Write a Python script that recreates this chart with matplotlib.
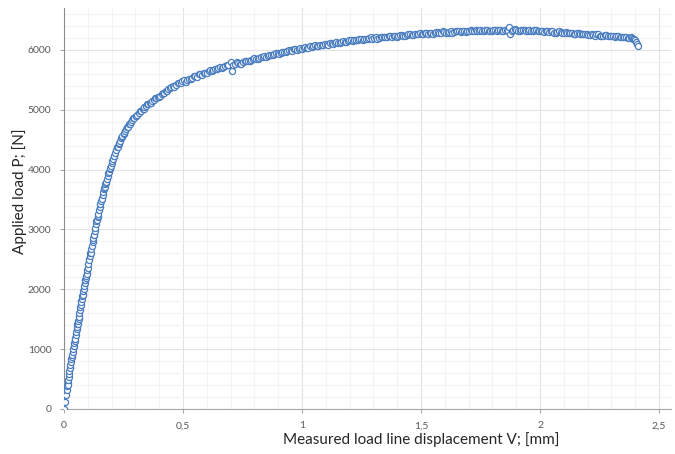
import matplotlib
matplotlib.use("Agg")
import matplotlib.pyplot as plt
from matplotlib.ticker import MultipleLocator, FuncFormatter

# Load - displacement record (V in mm, P in N), first pass of samples
V = [0.000, 0.004, 0.008, 0.011, 0.013, 0.015, 0.017, 0.019, 0.021, 0.023,
     0.025, 0.027, 0.029, 0.031, 0.033, 0.035, 0.037, 0.039, 0.041, 0.043,
     0.045, 0.047, 0.049, 0.051, 0.053, 0.055, 0.057, 0.059, 0.061, 0.063,
     0.065, 0.067, 0.069, 0.071, 0.073, 0.075, 0.077, 0.079, 0.081, 0.083,
     0.085, 0.087, 0.089, 0.091, 0.093, 0.095, 0.097, 0.099, 0.102, 0.105,
     0.108, 0.111, 0.114, 0.117, 0.120, 0.123, 0.126, 0.129, 0.132, 0.135,
     0.138, 0.141, 0.144, 0.147, 0.150, 0.153, 0.156, 0.159, 0.162, 0.165,
     0.168, 0.171, 0.174, 0.177, 0.180, 0.184, 0.188, 0.192, 0.196, 0.200,
     0.205, 0.210, 0.215, 0.220, 0.225, 0.230, 0.235, 0.240, 0.245, 0.250,
     0.256, 0.262, 0.268, 0.274, 0.280, 0.287, 0.294, 0.301, 0.308, 0.315,
     0.322, 0.330, 0.338, 0.346, 0.354, 0.362, 0.370, 0.378, 0.386, 0.394,
     0.402, 0.411, 0.420, 0.429, 0.438, 0.447,
     0.456, 0.470, 0.484, 0.497, 0.511, 0.525, 0.539, 0.552, 0.566, 0.580,
     0.594, 0.608, 0.621, 0.635, 0.649, 0.663, 0.677, 0.690, 0.700, 0.704,
     0.718, 0.732, 0.745, 0.759, 0.773, 0.787, 0.800, 0.814, 0.828, 0.842,
     0.855, 0.869, 0.883, 0.897, 0.910, 0.924, 0.938, 0.952, 0.965, 0.979,
     0.993, 1.007, 1.020, 1.034, 1.048, 1.062, 1.075, 1.089, 1.103, 1.117,
     1.130, 1.144, 1.158, 1.172, 1.185, 1.199, 1.213, 1.227, 1.240, 1.254,
     1.268, 1.282, 1.295, 1.309, 1.323, 1.337, 1.350, 1.364, 1.378, 1.392,
     1.405, 1.419, 1.433, 1.447, 1.460, 1.474, 1.488, 1.502, 1.515, 1.529,
     1.543, 1.557, 1.570, 1.584, 1.598, 1.612, 1.625, 1.639, 1.653, 1.667,
     1.680, 1.694, 1.708, 1.722, 1.735, 1.749, 1.763, 1.777, 1.790, 1.804,
     1.818, 1.832, 1.845, 1.859, 1.870, 1.873, 1.887, 1.900, 1.914, 1.928,
     1.942, 1.955, 1.969, 1.983, 1.997, 2.010, 2.024, 2.038, 2.052, 2.065,
     2.079, 2.093, 2.107, 2.120, 2.134, 2.148, 2.162, 2.175, 2.189, 2.203,
     2.217, 2.230, 2.244, 2.258, 2.272, 2.285, 2.299, 2.313, 2.327, 2.340,
     2.354, 2.368, 2.382, 2.392, 2.400, 2.404, 2.408, 2.410]

P = [0, 110, 240, 320, 380, 440, 480, 540, 590, 640,
     690, 730, 780, 830, 870, 910, 960, 1000, 1050, 1100,
     1140, 1190, 1230, 1280, 1330, 1370, 1420, 1470, 1510, 1560,
     1600, 1650, 1700, 1740, 1790, 1830, 1880, 1920, 1970, 2010,
     2060, 2100, 2150, 2190, 2230, 2280, 2320, 2360, 2420, 2490,
     2550, 2610, 2670, 2730, 2790, 2850, 2910, 2970, 3030, 3090,
     3150, 3210, 3260, 3320, 3370, 3420, 3470, 3520, 3570, 3620,
     3670, 3710, 3760, 3800, 3850, 3900, 3960, 4010, 4060, 4110,
     4170, 4220, 4280, 4330, 4380, 4430, 4470, 4520, 4560, 4600,
     4640, 4680, 4720, 4760, 4790, 4830, 4860, 4890, 4920, 4950,
     4980, 5010, 5040, 5060, 5090, 5120, 5140, 5160, 5190, 5210,
     5230, 5260, 5280, 5310, 5340, 5360,
     5390, 5420, 5440, 5480, 5470, 5520, 5530, 5560, 5590, 5580,
     5620, 5650, 5640, 5680, 5700, 5690, 5730, 5750, 5800, 5640,
     5760, 5780, 5770, 5810, 5820, 5830, 5860, 5850, 5880, 5890,
     5900, 5920, 5930, 5950, 5940, 5970, 5980, 5990, 6010, 6000,
     6030, 6040, 6030, 6060, 6070, 6060, 6090, 6080, 6100, 6110,
     6100, 6130, 6120, 6150, 6140, 6160, 6150, 6170, 6180, 6170,
     6190, 6200, 6190, 6210, 6200, 6220, 6210, 6230, 6220, 6240,
     6230, 6250, 6240, 6260, 6250, 6270, 6260, 6270, 6280, 6270,
     6290, 6280, 6300, 6290, 6300, 6290, 6310, 6300, 6320, 6300,
     6320, 6310, 6330, 6310, 6320, 6330, 6310, 6330, 6320, 6340,
     6320, 6330, 6320, 6340, 6380, 6270, 6330, 6340, 6320, 6340,
     6320, 6330, 6310, 6330, 6320, 6310, 6320, 6300, 6310, 6290,
     6310, 6290, 6300, 6280, 6290, 6270, 6280, 6260, 6270, 6250,
     6260, 6240, 6260, 6240, 6250, 6230, 6240, 6220, 6230, 6210,
     6220, 6200, 6210, 6190, 6170, 6130, 6100, 6070]

# second pass of samples, taken between the first ones
V2 = [0.016, 0.024, 0.032, 0.040, 0.048, 0.056, 0.064, 0.072, 0.080, 0.088,
      0.096, 0.104, 0.112, 0.120, 0.128, 0.136, 0.144, 0.152, 0.160, 0.168,
      0.176, 0.186, 0.194, 0.202, 0.212, 0.222, 0.232, 0.242, 0.253, 0.265,
      0.277, 0.290, 0.304, 0.318, 0.334, 0.350, 0.366, 0.382, 0.398, 0.415,
      0.433, 0.451,
      0.463, 0.477, 0.490, 0.504, 0.518, 0.532, 0.546, 0.559, 0.573, 0.587,
      0.601, 0.615, 0.628, 0.642, 0.656, 0.670, 0.684, 0.711, 0.725, 0.739,
      0.752, 0.766, 0.780, 0.794, 0.807, 0.821, 0.835, 0.849, 0.862, 0.876,
      0.890, 0.904, 0.917, 0.931, 0.945, 0.959, 0.972, 0.986, 1.000, 1.013,
      1.027, 1.041, 1.055, 1.069, 1.082, 1.096, 1.110, 1.124, 1.137, 1.151,
      1.165, 1.179, 1.192, 1.206, 1.220, 1.234, 1.247, 1.261, 1.275, 1.289,
      1.302, 1.316, 1.330, 1.344, 1.357, 1.371, 1.385, 1.399, 1.412, 1.426,
      1.440, 1.454, 1.467, 1.481, 1.495, 1.509, 1.522, 1.536, 1.550, 1.564,
      1.577, 1.591, 1.605, 1.619, 1.632, 1.646, 1.660, 1.674, 1.687, 1.701,
      1.715, 1.729, 1.742, 1.756, 1.770, 1.784, 1.797, 1.811, 1.825, 1.839,
      1.852, 1.866, 1.880, 1.894, 1.907, 1.921, 1.935, 1.949, 1.962, 1.976,
      1.990, 2.004, 2.017, 2.031, 2.045, 2.059, 2.072, 2.086, 2.100, 2.114,
      2.127, 2.141, 2.155, 2.169, 2.182, 2.196, 2.210, 2.224, 2.237, 2.251,
      2.265, 2.279, 2.292, 2.306, 2.320, 2.334, 2.347, 2.361, 2.375, 2.387,
      2.396]

P2 = [400, 700, 880, 1060, 1170, 1420, 1540, 1800, 1900, 2160,
      2260, 2500, 2600, 2820, 2900, 3140, 3230, 3430, 3510, 3700,
      3770, 3950, 4020, 4150, 4230, 4370, 4440, 4550, 4610, 4710,
      4770, 4860, 4890, 4980, 5010, 5090, 5120, 5190, 5210, 5280,
      5310, 5380,
      5380, 5440, 5450, 5490, 5500, 5510, 5560, 5550, 5600, 5610,
      5620, 5660, 5670, 5680, 5720, 5710, 5740, 5750, 5790, 5770,
      5800, 5820, 5810, 5850, 5840, 5870, 5880, 5880, 5910, 5910,
      5940, 5930, 5960, 5960, 5990, 5980, 6010, 6020, 6010, 6050,
      6040, 6050, 6080, 6070, 6080, 6100, 6090, 6120, 6110, 6120,
      6140, 6130, 6150, 6170, 6160, 6160, 6190, 6180, 6180, 6210,
      6200, 6190, 6220, 6210, 6220, 6240, 6230, 6220, 6250, 6240,
      6250, 6270, 6250, 6260, 6280, 6260, 6290, 6280, 6270, 6300,
      6280, 6310, 6290, 6300, 6290, 6310, 6320, 6310, 6300, 6320,
      6320, 6340, 6310, 6320, 6340, 6320, 6310, 6330, 6340, 6310,
      6330, 6320, 6310, 6350, 6320, 6330, 6340, 6310, 6320, 6340,
      6310, 6320, 6300, 6310, 6320, 6290, 6300, 6300, 6280, 6290,
      6290, 6270, 6280, 6270, 6260, 6270, 6250, 6250, 6260, 6240,
      6240, 6250, 6230, 6230, 6240, 6210, 6220, 6210, 6200, 6200,
      6180]

x_ticks = [0, 0.5, 1.0, 1.5, 2.0, 2.5]
y_ticks = [0, 1000, 2000, 3000, 4000, 5000, 6000]

blue = "#4a7dc0"
font = "Lato"

# both passes drawn as one record, ordered by displacement
pts = sorted(zip(V + V2, P + P2))
vv = [p[0] for p in pts]
pp = [p[1] for p in pts]

fig = plt.figure(figsize=(6.75, 4.54), dpi=100)
ax = fig.add_axes([64 / 675, 45 / 454, 607 / 675, 401 / 454])

ax.plot(vv, pp, color=blue, lw=1.4, marker="o", ms=4.4, mfc="white",
        mec=blue, mew=0.9, zorder=3)

ax.set_xlim(0, 2.55)
ax.set_ylim(0, 6700)
ax.set_xticks(x_ticks)
ax.set_yticks(y_ticks)
ax.xaxis.set_minor_locator(MultipleLocator(0.1))
ax.yaxis.set_minor_locator(MultipleLocator(200))
ax.xaxis.set_major_formatter(FuncFormatter(lambda v, _: f"{v:g}".replace(".", ",")))

ax.grid(which="major", color="#e3e3e3", lw=0.8)
ax.grid(which="minor", color="#f3f3f3", lw=0.8)
ax.set_axisbelow(True)

for s in ["top", "right"]:
    ax.spines[s].set_visible(False)
ax.spines["left"].set_color("#8c8c8c")
ax.spines["bottom"].set_color("#a6a6a6")

ax.tick_params(which="major", length=3, width=0.8, color="#a6a6a6",
               labelsize=7.5, labelcolor="#595959", pad=6)
ax.tick_params(which="minor", length=0)
for lab in ax.get_xticklabels() + ax.get_yticklabels():
    lab.set_family(font)

fig.text(421 / 675, 1 - 440 / 454, "Measured load line displacement V; [mm]",
         family=font, fontsize=11, color="#262626", ha="center", va="center")
fig.text(20 / 675, 1 - 191 / 454, "Applied load P; [N]", family=font,
         fontsize=11, color="#262626", ha="center", va="center", rotation=90)

fig.savefig("out.png", dpi=100)
